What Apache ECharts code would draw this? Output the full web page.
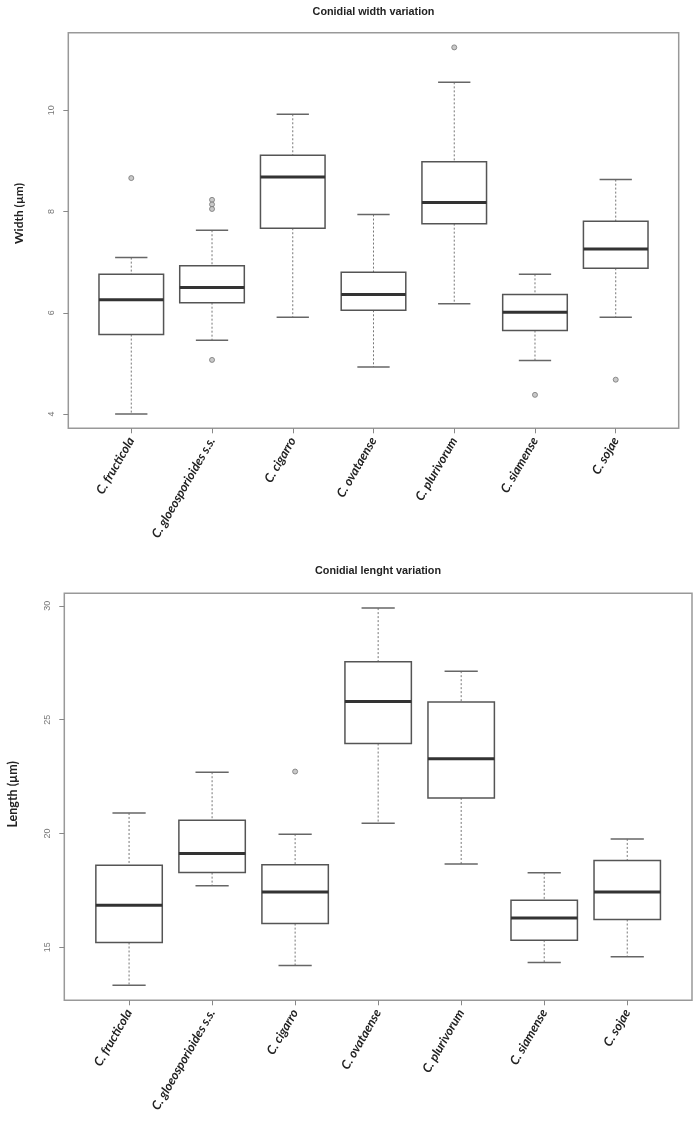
<!DOCTYPE html>
<html>
<head>
<meta charset="utf-8">
<script src="https://cdn.jsdelivr.net/npm/echarts@6/dist/echarts.min.js"></script>
<style>
html,body{margin:0;padding:0;background:#fff;}
#chart{width:700px;height:1125px;}
</style>
</head>
<body>
<div id="chart"></div>
<script>
const categories = ['C. fructicola','C. gloeosporioides s.s.','C. cigarro','C. ovataense','C. plurivorum','C. siamense','C. sojae'];

// Conidial width (µm)
const widthMin = [4.00, 5.46, 5.91, 4.93, 6.18, 5.06, 5.91];
const widthQ1  = [5.57, 6.20, 7.67, 6.05, 7.76, 5.65, 6.88];
const widthMed = [6.26, 6.50, 8.68, 6.36, 8.18, 6.01, 7.26];
const widthQ3  = [6.76, 6.93, 9.11, 6.80, 8.98, 6.36, 7.81];
const widthMax = [7.09, 7.63, 9.92, 7.94, 10.55, 6.76, 8.63];
const widthOutlierCat = [0, 1, 1, 1, 1, 4, 5, 6];
const widthOutlierVal = [8.66, 8.23, 8.14, 8.05, 5.07, 11.24, 4.38, 4.68];
const widthTicks = [4, 6, 8, 10];

// Conidial length (µm)
const lenMin = [13.33, 17.70, 14.20, 20.45, 18.66, 14.33, 14.58];
const lenQ1  = [15.21, 18.28, 16.04, 23.95, 21.56, 15.31, 16.22];
const lenMed = [16.85, 19.12, 17.43, 25.80, 23.28, 16.29, 17.43];
const lenQ3  = [18.60, 20.58, 18.63, 27.54, 25.77, 17.07, 18.81];
const lenMax = [20.90, 22.69, 19.97, 29.90, 27.13, 18.27, 19.76];
const lenOutlierCat = [2];
const lenOutlierVal = [22.72];
const lenTicks = [15, 20, 25, 30];

const catPos = categories.map((c, i) => i + 1);

function boxData(mn, q1, md, q3, mx) {
  return categories.map((c, i) => [i + 1, mn[i], q1[i], md[i], q3[i], mx[i]]);
}
function outData(cats, vals) {
  return cats.map((c, i) => [c + 1, vals[i]]);
}

function renderBox(params, api) {
  const x = api.value(0);
  const pMin = api.coord([x, api.value(1)]);
  const pQ1 = api.coord([x, api.value(2)]);
  const pMed = api.coord([x, api.value(3)]);
  const pQ3 = api.coord([x, api.value(4)]);
  const pMax = api.coord([x, api.value(5)]);
  const cx = pMed[0];
  const half = api.size([0.8, 0])[0] / 2;
  const cap = half / 2;
  const dash = {stroke: '#777', lineWidth: 1, lineDash: [2, 2], fill: null};
  const solid = {stroke: '#666', lineWidth: 1.5, fill: null};
  return {
    type: 'group',
    children: [
      {type: 'line', shape: {x1: cx, y1: pMax[1], x2: cx, y2: pQ3[1]}, style: dash},
      {type: 'line', shape: {x1: cx, y1: pQ1[1], x2: cx, y2: pMin[1]}, style: dash},
      {type: 'line', shape: {x1: cx - cap, y1: pMax[1], x2: cx + cap, y2: pMax[1]}, style: solid},
      {type: 'line', shape: {x1: cx - cap, y1: pMin[1], x2: cx + cap, y2: pMin[1]}, style: solid},
      {type: 'rect', shape: {x: cx - half, y: pQ3[1], width: 2 * half, height: pQ1[1] - pQ3[1]},
        style: {fill: '#fff', stroke: '#555', lineWidth: 1.5}},
      {type: 'line', shape: {x1: cx - half, y1: pMed[1], x2: cx + half, y2: pMed[1]},
        style: {stroke: '#333', lineWidth: 3}}
    ]
  };
}

const catLabel = {
  customValues: catPos,
  rotate: 60,
  margin: 10,
  interval: 0,
  color: '#222',
  fontFamily: 'Lato',
  fontWeight: 'bold',
  fontStyle: 'italic',
  fontSize: 12.5,
  formatter: v => categories[Math.round(v) - 1] || ''
};

function xAxisDef(gi) {
  return {
    type: 'value', gridIndex: gi, min: 0.22, max: 7.78,
    axisLine: {show: false},
    axisTick: {show: true, customValues: catPos, length: 5, lineStyle: {color: '#888', width: 1}},
    axisLabel: catLabel,
    splitLine: {show: false}
  };
}

function yAxisDef(gi, name, mn, mx, ticks, gap, pad, fs) {
  return {
    type: 'value', gridIndex: gi, min: mn, max: mx,
    name: name, nameLocation: 'middle', nameGap: gap,
    nameTextStyle: {fontFamily: 'Lato', fontWeight: 'bold', fontSize: fs, color: '#222', padding: pad},
    axisLine: {show: false},
    axisTick: {show: true, customValues: ticks, length: 5, lineStyle: {color: '#888', width: 1}},
    axisLabel: {customValues: ticks, rotate: 90, margin: 12, color: '#777', fontSize: 9,
      fontFamily: 'Liberation Sans'},
    splitLine: {show: false}
  };
}

const chart = echarts.init(document.getElementById('chart'), null, {renderer: 'canvas'});
chart.setOption({
  backgroundColor: '#fff',
  animation: false,
  graphic: [
    {type: 'text', x: 373.5, y: 12, style: {text: 'Conidial width variation', textAlign: 'center',
      textVerticalAlign: 'middle', fontFamily: 'Liberation Sans', fontWeight: 'bold', fontSize: 10.8, fill: '#222'}},
    {type: 'text', x: 378, y: 571, style: {text: 'Conidial lenght variation', textAlign: 'center',
      textVerticalAlign: 'middle', fontFamily: 'Liberation Sans', fontWeight: 'bold', fontSize: 10.8, fill: '#222'}}
  ],
  grid: [
    {left: 68.3, top: 32.7, width: 610.4, height: 395.6, show: true, borderColor: '#999', borderWidth: 1.5,
      backgroundColor: 'transparent', containLabel: false, outerBoundsMode: 'none'},
    {left: 64.3, top: 593.3, width: 627.7, height: 407, show: true, borderColor: '#999', borderWidth: 1.5,
      backgroundColor: 'transparent', containLabel: false, outerBoundsMode: 'none'}
  ],
  xAxis: [xAxisDef(0), xAxisDef(1)],
  yAxis: [
    yAxisDef(0, 'Width (µm)', 3.72, 11.53, widthTicks, 43, [0, 0, 0, 34], 12),
    yAxisDef(1, 'Length (µm)', 12.67, 30.55, lenTicks, 45, [0, 0, 0, 5], 12.5)
  ],
  series: [
    {type: 'custom', xAxisIndex: 0, yAxisIndex: 0, renderItem: renderBox,
      encode: {x: 0, y: [1, 2, 3, 4, 5]},
      data: boxData(widthMin, widthQ1, widthMed, widthQ3, widthMax)},
    {type: 'scatter', xAxisIndex: 0, yAxisIndex: 0, symbol: 'circle', symbolSize: 5,
      itemStyle: {color: '#bbb', borderColor: '#777', borderWidth: 1},
      data: outData(widthOutlierCat, widthOutlierVal)},
    {type: 'custom', xAxisIndex: 1, yAxisIndex: 1, renderItem: renderBox,
      encode: {x: 0, y: [1, 2, 3, 4, 5]},
      data: boxData(lenMin, lenQ1, lenMed, lenQ3, lenMax)},
    {type: 'scatter', xAxisIndex: 1, yAxisIndex: 1, symbol: 'circle', symbolSize: 5,
      itemStyle: {color: '#bbb', borderColor: '#777', borderWidth: 1},
      data: outData(lenOutlierCat, lenOutlierVal)}
  ]
});
</script>
</body>
</html>
